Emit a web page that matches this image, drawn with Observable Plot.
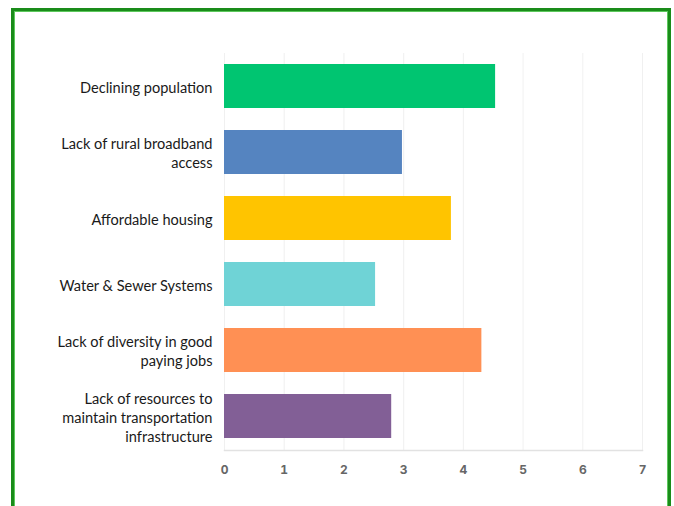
<!DOCTYPE html>
<html><head><meta charset="utf-8">
<script src="https://cdn.jsdelivr.net/npm/d3@7"></script>
<script src="https://cdn.jsdelivr.net/npm/@observablehq/plot@0.6"></script>
<style>
html,body{margin:0;padding:0;background:#fff;overflow:hidden;}
#wrap{position:relative;width:674px;height:506px;}
#frame{position:absolute;left:11px;top:8px;width:654px;height:520px;border:3px solid #1a8c1a;box-shadow:inset 0 0 0 1px #5cc85c;pointer-events:none;}
#chart{position:absolute;left:0;top:0;}
</style></head>
<body><div id="wrap"><div id="chart"></div><div id="frame"></div></div>
<script>
const categories = [
  "Declining population",
  "Lack of rural broadband\naccess",
  "Affordable housing",
  "Water & Sewer Systems",
  "Lack of diversity in good\npaying jobs",
  "Lack of resources to\nmaintain transportation\ninfrastructure"
];
const values = [4.54, 2.98, 3.80, 2.53, 4.31, 2.80];
const colors = ["#00c571", "#5584c0", "#ffc400", "#6fd3d6", "#ff9054", "#825f96"];
const xTicks = [0, 1, 2, 3, 4, 5, 6, 7];

const data = categories.map((c, i) => ({category: c, value: values[i], color: colors[i]}));

const chart = Plot.plot({
  width: 674,
  height: 506,
  marginLeft: 224,
  marginRight: 32,
  marginTop: 53,
  marginBottom: 56,
  style: {background: "transparent"},
  x: {domain: [0, 7], ticks: xTicks},
  y: {domain: categories, paddingInner: 0.33, paddingOuter: 0.167},
  marks: [
    Plot.gridX(xTicks, {stroke: "#e6e6e6", strokeOpacity: 0.6}),
    Plot.barX(data, {x: "value", y: "category", fill: "color", inset: 0}),
    Plot.frame({anchor: "bottom", stroke: "#e2e2e2", strokeWidth: 1.5}),
    Plot.axisX({ticks: xTicks, tickFormat: d3.format("d"), tickSize: 0, tickPadding: 15, fontSize: 12, fontWeight: "bold", fill: "#666", fontFamily: "Inter, sans-serif", label: null}),
    Plot.axisY({tickSize: 0, tickPadding: 12, fontSize: 14.6, fill: "#1a1a1a", fontFamily: "Lato, sans-serif", lineHeight: 1.3, label: null})
  ]
});
document.getElementById("chart").appendChild(chart);
</script>
</body></html>
